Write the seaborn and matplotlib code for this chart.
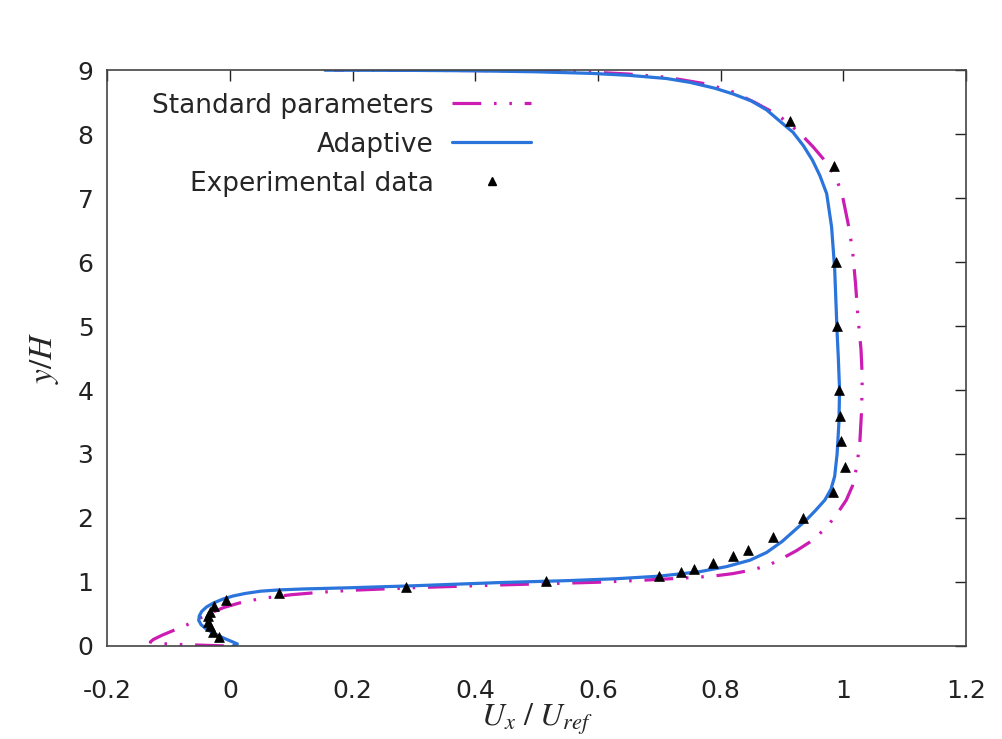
import numpy as np
import pandas as pd
import seaborn as sns
import matplotlib
matplotlib.use("Agg")
from matplotlib import pyplot as plt
from matplotlib.lines import Line2D

# experimental data (triangles)
exp_x = [0.913, 0.985, 0.988, 0.990, 0.993, 0.995, 0.996, 1.003, 0.983, 0.935, 0.885,
         0.844, 0.821, 0.787, 0.756, 0.735, 0.700, 0.515, 0.287, 0.080, -0.006, -0.026,
         -0.033, -0.036, -0.036, -0.033, -0.028, -0.018]
exp_y = [8.2, 7.5, 6.0, 5.0, 4.0, 3.6, 3.2, 2.8, 2.4, 2.0, 1.7,
         1.5, 1.4, 1.3, 1.2, 1.15, 1.1, 1.02, 0.92, 0.83, 0.72, 0.63,
         0.53, 0.46, 0.38, 0.31, 0.22, 0.14]

# adaptive model profile
ad_x = [0.005, 0.012, 0.005, -0.01, -0.025, -0.038, -0.047, -0.051, -0.05, -0.046,
        -0.038, -0.027, -0.012, 0.005, 0.025, 0.05, 0.08, 0.12, 0.2, 0.3,
        0.44, 0.55, 0.63, 0.70, 0.766, 0.81, 0.848, 0.875, 0.9, 0.92,
        0.94, 0.955, 0.97, 0.98, 0.986, 0.99, 0.993, 0.994, 0.992, 0.99,
        0.988, 0.986, 0.981, 0.973, 0.962, 0.95, 0.935, 0.918, 0.897, 0.875,
        0.85, 0.82, 0.79, 0.75, 0.712, 0.65, 0.59, 0.5, 0.4, 0.3, 0.155]
ad_y = [0.0, 0.03, 0.06, 0.12, 0.19, 0.26, 0.33, 0.40, 0.47, 0.54,
        0.61, 0.67, 0.73, 0.78, 0.82, 0.855, 0.875, 0.89, 0.91, 0.94,
        0.99, 1.02, 1.05, 1.09, 1.16, 1.24, 1.34, 1.46, 1.63, 1.8,
        1.97, 2.12, 2.28, 2.45, 2.65, 3.0, 3.5, 4.0, 4.5, 4.9,
        5.4, 5.9, 6.55, 7.07, 7.35, 7.59, 7.82, 8.03, 8.2, 8.38,
        8.52, 8.63, 8.72, 8.81, 8.87, 8.92, 8.95, 8.975, 8.99, 8.997, 9.0]

# standard parameters profile
st_x = [-0.01, -0.05, -0.09, -0.12, -0.13, -0.125, -0.11, -0.09, -0.07, -0.05,
        -0.03, -0.01, 0.015, 0.05, 0.1, 0.15, 0.2, 0.3, 0.45, 0.6,
        0.68, 0.739, 0.787, 0.82, 0.853, 0.88, 0.901, 0.924, 0.945, 0.957,
        0.975, 0.991, 1.005, 1.015, 1.022, 1.027, 1.03, 1.031, 1.029, 1.024,
        1.02, 1.015, 1.008, 0.998, 0.99, 0.981, 0.967, 0.951, 0.935, 0.918,
        0.9, 0.886, 0.855, 0.82, 0.78, 0.712, 0.65, 0.59, 0.5, 0.4, 0.17]
st_y = [0.0, 0.012, 0.025, 0.04, 0.06, 0.1, 0.17, 0.25, 0.33, 0.43,
        0.52, 0.6, 0.67, 0.74, 0.8, 0.84, 0.87, 0.91, 0.955, 0.995,
        1.03, 1.06, 1.09, 1.13, 1.19, 1.27, 1.37, 1.49, 1.62, 1.71,
        1.88, 2.08, 2.28, 2.5, 2.8, 3.17, 3.69, 4.2, 4.63, 5.14,
        5.67, 6.2, 6.6, 7.07, 7.27, 7.43, 7.62, 7.8, 7.96, 8.11,
        8.25, 8.34, 8.5, 8.66, 8.78, 8.89, 8.94, 8.97, 8.985, 8.995, 9.0]

sns.set_style("white")
plt.rcParams['font.family'] = ['DejaVu Sans']
plt.rcParams['mathtext.fontset'] = 'stix'

magenta = '#cc1cb4'
blue = '#2a74db'
dash_pat = (9, 4, 0.8, 4, 0.8, 4)

fig, ax = plt.subplots(figsize=(10.03, 7.39), dpi=100)
fig.subplots_adjust(left=0.107, right=0.963, top=0.905, bottom=0.126)

std = pd.DataFrame({'x': st_x, 'y': st_y})
ada = pd.DataFrame({'x': ad_x, 'y': ad_y})
exp = pd.DataFrame({'x': exp_x, 'y': exp_y})

sns.lineplot(data=std, x='x', y='y', sort=False, estimator=None, ax=ax,
             color=magenta, lw=2.3)
ax.lines[-1].set_dashes(dash_pat)
sns.lineplot(data=ada, x='x', y='y', sort=False, estimator=None, ax=ax,
             color=blue, lw=2.3)
for ln in ax.lines:
    ln.set_solid_joinstyle('round')
    ln.set_dash_joinstyle('round')
sns.scatterplot(data=exp, x='x', y='y', marker='^', color='black', s=50,
                edgecolor='black', linewidth=0.5, ax=ax, zorder=5)

ax.set_xlim(-0.2, 1.2)
ax.set_ylim(0, 9)
ax.set_xticks(np.arange(-0.2, 1.21, 0.2))
ax.set_xticklabels(['-0.2', '0', '0.2', '0.4', '0.6', '0.8', '1', '1.2'])
ax.set_yticks(range(0, 10))
ax.tick_params(direction='in', length=8, width=1, top=True, right=True,
               labelsize=18, colors='#222222')
ax.tick_params(axis='x', pad=24)
ax.tick_params(axis='y', pad=10)
for s in ax.spines.values():
    s.set_color('#444444')
    s.set_linewidth(1.2)

ax.set_xlabel(r'$U_x\ /\ U_{ref}$', fontsize=23, labelpad=-1)
ax.set_ylabel(r'$y/H$', fontsize=24, labelpad=12)

handles = [
    Line2D([], [], color=magenta, lw=2.3, dashes=dash_pat),
    Line2D([], [], color=blue, lw=2.3),
    Line2D([], [], color='black', marker='^', ls='none', markersize=6),
]
labels = ['Standard parameters', 'Adaptive', 'Experimental data']
leg = ax.legend(handles, labels, loc='upper left', bbox_to_anchor=(0.052, 0.961),
                frameon=False, markerfirst=False, fontsize=19, handlelength=3.0,
                handletextpad=0.7, labelspacing=0.49, borderpad=0, borderaxespad=0)

fig.savefig('out.png', dpi=100)
